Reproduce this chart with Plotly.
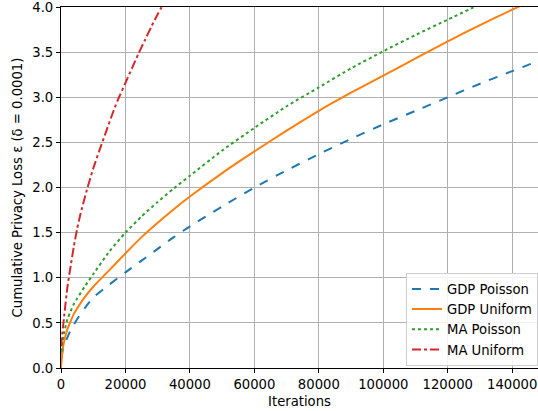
import plotly.graph_objects as go

# GDP Poisson (blue dashed)
gdp_p_x = [150, 500, 1000, 2000, 3000, 4000, 5000, 7500, 10000, 15000, 20000, 25000, 30000, 35000,
           40000, 50000, 60000, 70000, 80000, 90000, 100000, 110000, 120000, 130000, 140000, 148000]
gdp_p_y = [0.12, 0.19, 0.25, 0.34, 0.42, 0.48, 0.54, 0.67, 0.78, 0.925, 1.06, 1.19, 1.32, 1.45,
           1.57, 1.79, 2.00, 2.19, 2.37, 2.54, 2.70, 2.85, 3.00, 3.15, 3.29, 3.40]

# GDP Uniform (orange solid)
gdp_u_x = [0, 500, 1000, 2000, 3000, 4000, 5000, 7500, 10000, 15000, 20000, 25000, 30000, 35000,
           40000, 50000, 60000, 70000, 80000, 90000, 100000, 110000, 120000, 130000, 140000, 148000]
gdp_u_y = [0.00, 0.20, 0.30, 0.43, 0.52, 0.60, 0.66, 0.79, 0.90, 1.085, 1.27, 1.45, 1.61, 1.76,
           1.90, 2.16, 2.40, 2.63, 2.85, 3.05, 3.24, 3.43, 3.62, 3.80, 3.97, 4.10]

# MA Poisson (green dotted)
ma_p_x = [150, 500, 1000, 2000, 3000, 4000, 5000, 7500, 10000, 15000, 20000, 25000, 30000, 35000,
          40000, 50000, 60000, 70000, 80000, 90000, 100000, 110000, 120000, 130000]
ma_p_y = [0.18, 0.30, 0.40, 0.54, 0.63, 0.71, 0.77, 0.91, 1.04, 1.29, 1.50, 1.68, 1.84, 1.99,
          2.13, 2.41, 2.66, 2.90, 3.11, 3.32, 3.51, 3.69, 3.86, 4.03]

# MA Uniform (red dash-dot)
ma_u_x = [60, 250, 1000, 2000, 3000, 4000, 5000, 6000, 8000, 10000, 12000, 14000, 16000,
          18000, 20000, 22000, 24000, 26000, 28000, 30000, 32000]
ma_u_y = [0.24, 0.33, 0.58, 0.90, 1.13, 1.35, 1.54, 1.70, 1.97, 2.21, 2.42, 2.62, 2.82,
          3.00, 3.16, 3.32, 3.48, 3.63, 3.78, 3.92, 4.05]

x_ticks = [0, 20000, 40000, 60000, 80000, 100000, 120000, 140000]
y_ticks = [0.0, 0.5, 1.0, 1.5, 2.0, 2.5, 3.0, 3.5, 4.0]

series = [
    ("GDP Poisson", gdp_p_x, gdp_p_y, "#1f77b4", "dash"),
    ("GDP Uniform", gdp_u_x, gdp_u_y, "#ff7f0e", "solid"),
    ("MA Poisson", ma_p_x, ma_p_y, "#2ca02c", "dot"),
    ("MA Uniform", ma_u_x, ma_u_y, "#d62728", "dashdot"),
]

fig = go.Figure()
for name, xs, ys, color, dash in series:
    fig.add_trace(go.Scatter(x=xs, y=ys, mode="lines", name=name,
                             line=dict(color=color, width=2, dash=dash, shape="spline", smoothing=0.6)))

font = "DejaVu Sans, sans-serif"
fs = 13.2
fig.update_layout(
    width=538, height=411,
    margin=dict(l=61, r=0, t=7, b=43),
    paper_bgcolor="white", plot_bgcolor="white",
    font=dict(family=font, size=fs, color="black"),
    showlegend=True,
    legend=dict(x=1, y=0.006, xanchor="right", yanchor="bottom",
                bgcolor="rgba(255,255,255,0.85)", bordercolor="#cccccc", borderwidth=1,
                font=dict(size=fs), itemwidth=30, tracegroupgap=0),
)
fig.update_xaxes(range=[0, 148000], tickvals=x_ticks, ticktext=[str(v) for v in x_ticks],
                 automargin=False, ticklabeloverflow="allow",
                 showgrid=True, gridcolor="#b0b0b0", gridwidth=1,
                 showline=True, linecolor="black", linewidth=1.2, mirror=True,
                 ticks="outside", ticklen=4, tickcolor="black", zeroline=False,
                 title=dict(text="Iterations", standoff=5, font=dict(size=fs)))
fig.update_yaxes(range=[0, 4.0], tickvals=y_ticks, ticktext=[f"{v:.1f}" for v in y_ticks],
                 automargin=False, ticklabeloverflow="allow",
                 showgrid=True, gridcolor="#b0b0b0", gridwidth=1,
                 showline=True, linecolor="black", linewidth=1.2, mirror=False,
                 ticks="outside", ticklen=4, tickcolor="black", zeroline=False,
                 title=dict(text="Cumulative Privacy Loss ε (δ = 0.0001)", standoff=6, font=dict(size=fs)))

fig.write_html("out.html", config={"displayModeBar": False},
               post_script="document.body.style.margin='0';document.body.style.overflow='hidden';")
